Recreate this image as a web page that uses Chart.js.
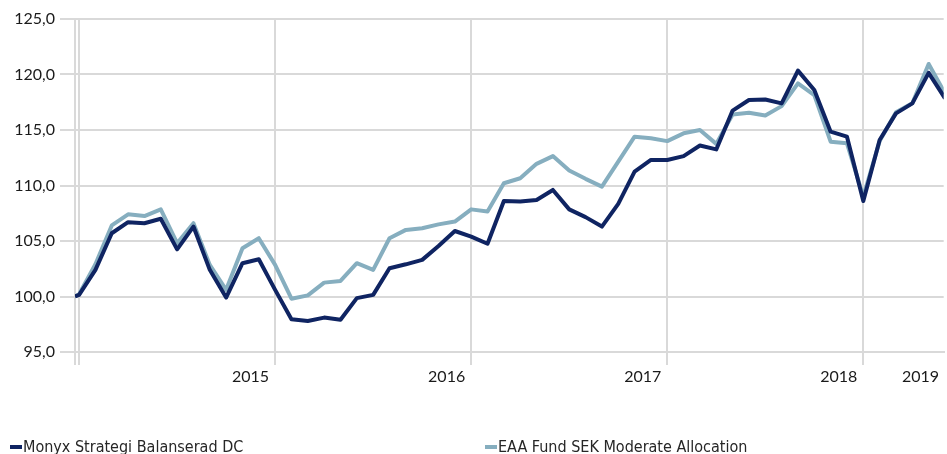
<!DOCTYPE html>
<html>
<head>
<meta charset="utf-8">
<script src="https://cdn.jsdelivr.net/npm/chart.js@4/dist/chart.umd.min.js"></script>
<style>
  body { margin: 0; background: #fff; overflow: hidden; }
  #wrap { position: relative; width: 947px; height: 454px; }
  #legend { position: absolute; left: 10px; top: 437px; display: flex;
            font-family: "Liberation Sans Narrow", "DejaVu Sans Condensed", sans-serif;
            font-size: 16px; color: #262626; white-space: nowrap; }
  #legend .item { width: 475px; display: flex; align-items: center; }
  #legend .mark { display: inline-block; width: 12px; height: 4px; margin-right: 1px; }
</style>
</head>
<body>
<div id="wrap">
  <canvas id="chart" width="947" height="454"></canvas>
  <div id="legend"></div>
</div>
<script>
// month index: 0 = end of Jan 2014 (first value is the start, index -0.25)
const months = [-0.25, 0, 1, 2, 3, 4, 5, 6, 7, 8, 9, 10, 11, 12, 13, 14, 15, 16, 17, 18, 19,
  20, 21, 22, 23, 24, 25, 26, 27, 28, 29, 30, 31, 32, 33, 34, 35, 36, 37, 38, 39,
  40, 41, 42, 43, 44, 45, 46, 47, 48, 49, 50, 51, 52, 53];

const monyx = [100.0, 100.15, 102.4, 105.7, 106.7, 106.6, 107.0, 104.25, 106.3, 102.4, 99.9,
  103.0, 103.35, 100.6, 97.95, 97.8, 98.1, 97.9, 99.85, 100.15, 102.55,
  102.9, 103.3, 104.55, 105.9, 105.4, 104.75, 108.6, 108.55, 108.7, 109.6,
  107.85, 107.15, 106.3, 108.35, 111.25, 112.3, 112.3, 112.65, 113.6, 113.25,
  116.75, 117.7, 117.75, 117.4, 120.35, 118.6, 114.85, 114.4, 108.6, 114.1,
  116.5, 117.4, 120.15, 117.85];

const eaa = [100.0, 100.2, 102.9, 106.4, 107.4, 107.25, 107.85, 104.8, 106.6, 102.85, 100.6,
  104.35, 105.25, 102.85, 99.8, 100.1, 101.25, 101.4, 103.0, 102.4, 105.25,
  106.0, 106.15, 106.5, 106.75, 107.85, 107.65, 110.2, 110.65, 111.95, 112.65,
  111.35, 110.6, 109.9, 112.15, 114.4, 114.25, 114.0, 114.7, 115.0, 113.75,
  116.4, 116.55, 116.3, 117.15, 119.2, 118.15, 113.95, 113.8, 109.0, 114.0,
  116.6, 117.4, 120.95, 118.3];

const seriesNames = ["Monyx Strategi Balanserad DC", "EAA Fund SEK Moderate Allocation"];
const seriesColors = ["#0f2462", "#86aebf"];

const gridMonths = [-0.25, 0, 12, 24, 36, 48];
const yearTicks = [12, 24, 36, 48, 53];
const yearLabels = ["2015", "2016", "2017", "2018", "2019"];

const gridColor = "#d9d9d9";

function toPoints(values) {
  return values.map((v, i) => ({ x: months[i], y: v }));
}

const htmlLegend = {
  id: "htmlLegend",
  afterUpdate(chart) {
    const box = document.getElementById("legend");
    box.innerHTML = "";
    chart.data.datasets.forEach(ds => {
      const item = document.createElement("div");
      item.className = "item";
      const mark = document.createElement("span");
      mark.className = "mark";
      mark.style.background = ds.borderColor;
      const txt = document.createElement("span");
      txt.textContent = ds.label;
      item.appendChild(mark);
      item.appendChild(txt);
      box.appendChild(item);
    });
  }
};

new Chart(document.getElementById("chart"), {
  type: "line",
  data: {
    datasets: [
      { label: seriesNames[0], data: toPoints(monyx), borderColor: seriesColors[0] },
      { label: seriesNames[1], data: toPoints(eaa), borderColor: seriesColors[1] }
    ]
  },
  options: {
    responsive: false,
    animation: false,
    layout: { padding: { top: 19, right: 0, left: 0, bottom: 0 } },
    elements: {
      point: { radius: 0 },
      line: { borderWidth: 4, tension: 0, borderJoinStyle: "round", fill: false }
    },
    plugins: { legend: { display: false }, tooltip: { enabled: false } },
    scales: {
      x: {
        type: "linear",
        min: -0.25,
        max: 52.92,
        afterBuildTicks: scale => {
          scale.ticks = gridMonths.concat([53]).map(v => ({ value: v }));
        },
        afterFit: scale => { scale.height = 102; },
        grid: {
          color: ctx => (ctx.tick && gridMonths.includes(ctx.tick.value)) ? gridColor : "rgba(0,0,0,0)",
          lineWidth: 2,
          tickLength: 13
        },
        border: { color: gridColor, width: 2 },
        ticks: {
          autoSkip: false,
          maxRotation: 0,
          align: "end",
          labelOffset: -6,
          padding: 2,
          color: "#1a1a1a",
          font: { family: "Lato", size: 16 },
          callback: v => {
            const i = yearTicks.indexOf(v);
            return i >= 0 ? yearLabels[i] : "";
          }
        }
      },
      y: {
        min: 95,
        max: 125,
        afterFit: scale => { scale.width = 75; },
        grid: { color: gridColor, lineWidth: 2, tickLength: 15 },
        border: { color: gridColor, width: 2 },
        ticks: {
          stepSize: 5,
          padding: 5,
          color: "#1a1a1a",
          font: { family: "Lato", size: 16 },
          callback: v => v.toFixed(1).replace(".", ",")
        }
      }
    }
  },
  plugins: [htmlLegend]
});
</script>
</body>
</html>
